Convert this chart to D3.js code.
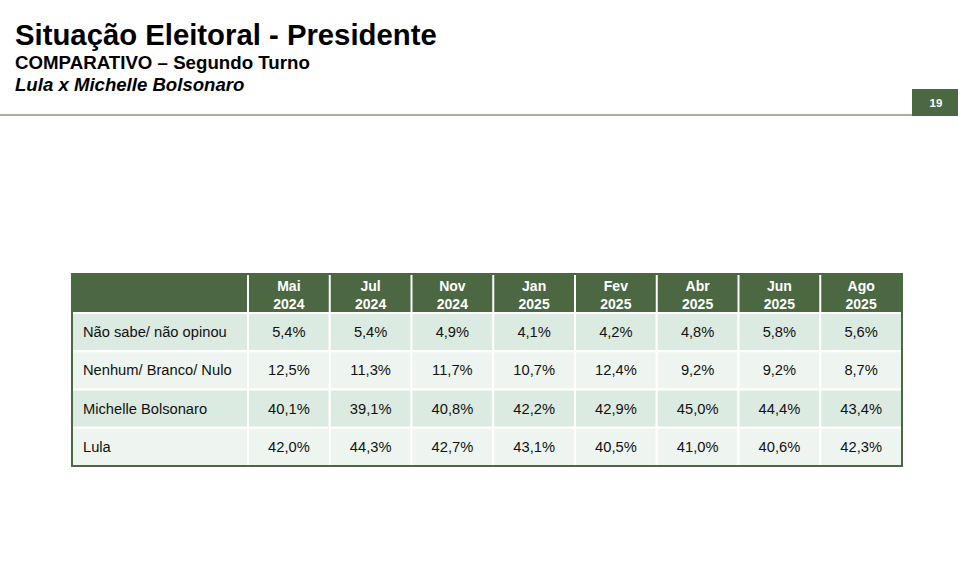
<!DOCTYPE html>
<html>
<head>
  <meta charset="utf-8">
  <title>Situação Eleitoral - Presidente</title>
  <script src="https://d3js.org/d3.v7.min.js"></script>
  <style>
    body { margin: 0; background: #fff; }
    svg { display: block; font-family: "Liberation Sans", Arial, sans-serif; }
  </style>
</head>
<body>
<div id="chart"></div>
<script type="text/javascript">
  // dados da tabela
  let months = ['Mai', 'Jul', 'Nov', 'Jan', 'Fev', 'Abr', 'Jun', 'Ago'];
  let years = ['2024', '2024', '2024', '2025', '2025', '2025', '2025', '2025'];
  let rowLabels = ['Não sabe/ não opinou', 'Nenhum/ Branco/ Nulo', 'Michelle Bolsonaro', 'Lula'];
  let naoSabe = [5.4, 5.4, 4.9, 4.1, 4.2, 4.8, 5.8, 5.6];
  let nenhum = [12.5, 11.3, 11.7, 10.7, 12.4, 9.2, 9.2, 8.7];
  let michelle = [40.1, 39.1, 40.8, 42.2, 42.9, 45.0, 44.4, 43.4];
  let lula = [42.0, 44.3, 42.7, 43.1, 40.5, 41.0, 40.6, 42.3];
  let series = [naoSabe, nenhum, michelle, lula];

  let w = 958;
  let h = 575;
  let dark = '#4b6843';

  let svg = d3.select('#chart')
              .append('svg')
              .attr('width', w)
              .attr('height', h);

  // cabeçalho da página
  svg.append('text')
     .attr('x', 15).attr('y', 45)
     .attr('font-size', '29.3px').attr('font-weight', 'bold')
     .attr('fill', '#000')
     .text('Situação Eleitoral - Presidente');
  svg.append('text')
     .attr('x', 15).attr('y', 69)
     .attr('font-size', '18.7px').attr('font-weight', 'bold')
     .text('COMPARATIVO – Segundo Turno');
  svg.append('text')
     .attr('x', 15).attr('y', 91)
     .attr('font-size', '18.6px').attr('font-weight', 'bold')
     .attr('font-style', 'italic')
     .text('Lula x Michelle Bolsonaro');

  svg.append('rect')
     .attr('x', 0).attr('y', 114).attr('width', 912).attr('height', 2)
     .attr('fill', '#a3b592');
  svg.append('rect')
     .attr('x', 912).attr('y', 89).attr('width', 46).attr('height', 27)
     .attr('fill', dark);
  svg.append('text')
     .attr('x', 936).attr('y', 107)
     .attr('text-anchor', 'middle')
     .attr('font-size', '11.5px').attr('font-weight', 'bold')
     .attr('fill', '#fff')
     .text('19');

  // tabela
  let tLeft = 72, labelW = 176, tRight = 902;
  let tTop = 274, headH = 39, tBottom = 466;

  let xScale = d3.scaleBand()
                 .domain(d3.range(months.length))
                 .range([tLeft + labelW, tRight]);
  let yScale = d3.scaleBand()
                 .domain(d3.range(rowLabels.length))
                 .range([tTop + headH, tBottom]);

  let rowFill = i => i % 2 === 0 ? '#dcebe1' : '#eef5f0';
  let fmt = v => v.toFixed(1).replace('.', ',') + '%';

  // fundo do cabeçalho
  svg.append('rect')
     .attr('x', tLeft).attr('y', tTop)
     .attr('width', tRight - tLeft).attr('height', headH)
     .attr('fill', dark);

  let rows = svg.selectAll('g.row')
                .data(series)
                .enter()
                .append('g')
                .attr('class', 'row');

  rows.append('rect')
      .attr('x', tLeft)
      .attr('y', (d, i) => yScale(i))
      .attr('width', labelW)
      .attr('height', yScale.bandwidth())
      .attr('fill', (d, i) => rowFill(i))
      .attr('stroke', '#fff').attr('stroke-width', 2);

  rows.append('text')
      .attr('x', tLeft + 11)
      .attr('y', (d, i) => yScale(i) + yScale.bandwidth() / 2 + 5)
      .attr('font-size', '14.7px')
      .attr('fill', '#111')
      .text((d, i) => rowLabels[i]);

  rows.each(function(vals, i) {
    let g = d3.select(this);
    g.selectAll('rect.cell')
     .data(vals)
     .enter()
     .append('rect')
     .attr('class', 'cell')
     .attr('x', (v, j) => xScale(j))
     .attr('y', yScale(i))
     .attr('width', xScale.bandwidth())
     .attr('height', yScale.bandwidth())
     .attr('fill', rowFill(i))
     .attr('stroke', '#fff').attr('stroke-width', 2);
    g.selectAll('text.val')
     .data(vals)
     .enter()
     .append('text')
     .attr('class', 'val')
     .attr('x', (v, j) => xScale(j) + xScale.bandwidth() / 2)
     .attr('y', yScale(i) + yScale.bandwidth() / 2 + 5)
     .attr('text-anchor', 'middle')
     .attr('font-size', '14.7px')
     .attr('fill', '#111')
     .text(fmt);
  });

  // linhas do cabeçalho
  svg.selectAll('line.hsep')
     .data(d3.range(months.length))
     .enter()
     .append('line')
     .attr('class', 'hsep')
     .attr('x1', j => xScale(j)).attr('x2', j => xScale(j))
     .attr('y1', tTop).attr('y2', tTop + headH)
     .attr('stroke', '#fff').attr('stroke-width', 2);

  svg.selectAll('text.month')
     .data(months)
     .enter()
     .append('text')
     .attr('class', 'month')
     .attr('x', (d, j) => xScale(j) + xScale.bandwidth() / 2)
     .attr('y', tTop + 17)
     .attr('text-anchor', 'middle')
     .attr('font-size', '14px').attr('font-weight', 'bold')
     .attr('fill', '#fff')
     .text(d => d);
  svg.selectAll('text.year')
     .data(years)
     .enter()
     .append('text')
     .attr('class', 'year')
     .attr('x', (d, j) => xScale(j) + xScale.bandwidth() / 2)
     .attr('y', tTop + 35)
     .attr('text-anchor', 'middle')
     .attr('font-size', '14px').attr('font-weight', 'bold')
     .attr('fill', '#fff')
     .text(d => d);

  // borda externa
  svg.append('rect')
     .attr('x', tLeft).attr('y', tTop)
     .attr('width', tRight - tLeft).attr('height', tBottom - tTop)
     .attr('fill', 'none')
     .attr('stroke', dark).attr('stroke-width', 2);
</script>
</body>
</html>
